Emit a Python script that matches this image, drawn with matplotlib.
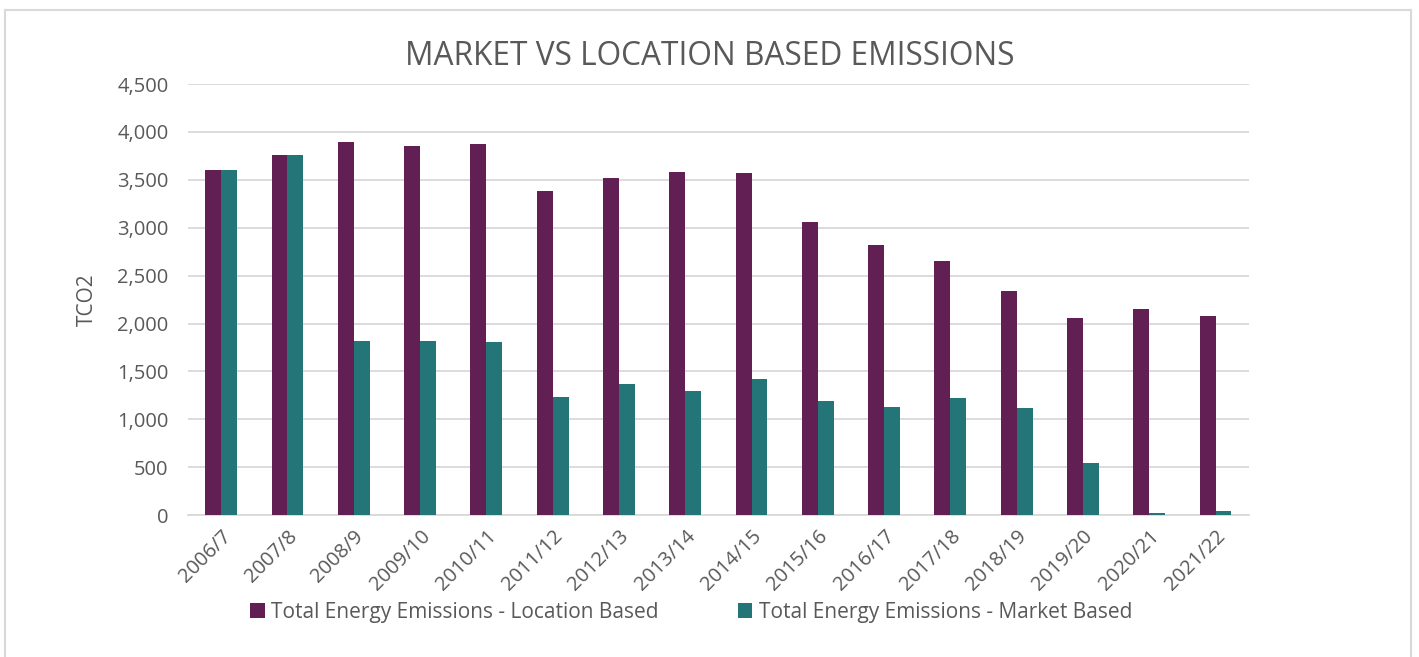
import numpy as np
import matplotlib
matplotlib.use("Agg")
import matplotlib.pyplot as plt
from matplotlib.ticker import FuncFormatter, MultipleLocator
from matplotlib.patches import Rectangle

years = ["2006/7", "2007/8", "2008/9", "2009/10", "2010/11", "2011/12",
         "2012/13", "2013/14", "2014/15", "2015/16", "2016/17", "2017/18",
         "2018/19", "2019/20", "2020/21", "2021/22"]
location_based = [3600, 3760, 3895, 3855, 3875, 3385, 3520, 3580, 3570,
                  3060, 2820, 2655, 2338, 2060, 2150, 2077]
market_based = [3600, 3760, 1817, 1817, 1807, 1235, 1368, 1298, 1420,
                1192, 1128, 1225, 1120, 548, 18, 42]

purple = "#621F53"
teal = "#247577"
grey_text = "#595959"
grid_grey = "#D9D9D9"

plt.rcParams['font.family'] = ['Open Sans', 'DejaVu Sans']

fig = plt.figure(figsize=(14.19, 6.57), dpi=100)
ax = fig.add_axes([0.1325, 0.216, 0.7475, 0.656])

x = np.arange(len(years))
w = 0.24
ax.bar(x - w / 2, location_based, w, color=purple,
       label="Total Energy Emissions - Location Based", zorder=3)
ax.bar(x + w / 2, market_based, w, color=teal,
       label="Total Energy Emissions - Market Based", zorder=3)

ax.set_xlim(-0.5, len(years) - 0.5)
ax.set_ylim(0, 4500)
ax.yaxis.set_major_locator(MultipleLocator(500))
ax.yaxis.set_major_formatter(FuncFormatter(lambda v, p: f"{int(v):,}"))
ax.grid(axis='y', color=grid_grey, linewidth=1.3, zorder=0)

ax.set_xticks(x)
ax.set_xticklabels(years, rotation=45, ha='right', rotation_mode='anchor')
ax.tick_params(axis='both', length=0, labelsize=14.5, colors=grey_text)
ax.tick_params(axis='x', pad=8)
ax.tick_params(axis='y', pad=14)

for s in ['top', 'right', 'left']:
    ax.spines[s].set_visible(False)
ax.spines['bottom'].set_color(grid_grey)
ax.spines['bottom'].set_linewidth(1.3)

ax.set_ylabel("TCO2", fontsize=15, color=grey_text, labelpad=14)

fig.text(0.5, 0.914, "MARKET VS LOCATION BASED EMISSIONS", ha='center',
         va='center', fontsize=22.8, color=grey_text)

leg = fig.legend(loc='center', bbox_to_anchor=(0.487, 0.068), ncol=2,
                 frameon=False, fontsize=15, handlelength=0.7,
                 handleheight=0.7, handletextpad=0.3, columnspacing=3.8)
for t in leg.get_texts():
    t.set_color(grey_text)

fig.patches.append(Rectangle((5 / 1419, -0.05), 1406 / 1419, 1 - 10 / 657 + 0.05,
                             transform=fig.transFigure, fill=False,
                             edgecolor=grid_grey, linewidth=1.5))

fig.savefig("out.png", dpi=100)
